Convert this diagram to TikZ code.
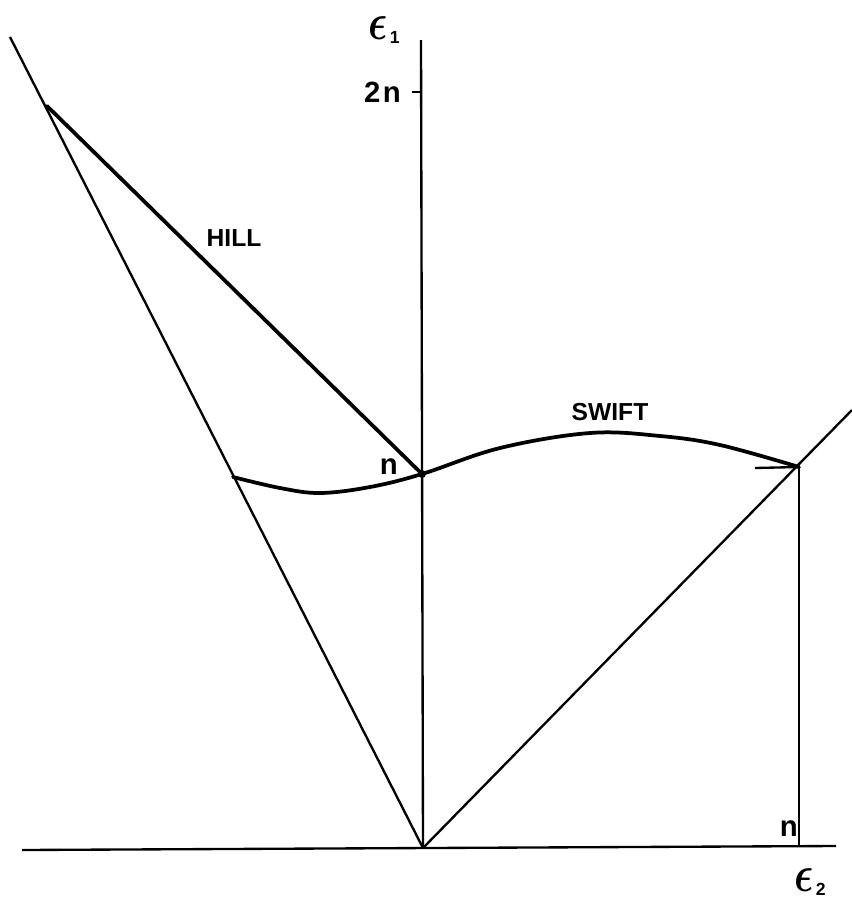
\documentclass[tikz,border=0pt]{standalone}
\usepackage{bm}
\usepackage{fontspec}
\setmainfont{Liberation Sans}
\usepackage{tikz}
\usepackage{xcolor}
\newcommand{\lblFont}{\fontsize{21}{24}\selectfont\bfseries}
\newcommand{\nFont}{\fontsize{25}{28}\selectfont\bfseries}
\newcommand{\axEps}[1]{%
    \scalebox{3.4}[4.4]{$\bm{\epsilon}$}\hspace{2pt}\raisebox{-0.35em}{\fontsize{15}{15}\selectfont\bfseries #1}%
}
\tikzset{
    thinline/.style={line width=2pt},
    thickline/.style={line width=3.2pt, line cap=round, line join=round},
    lbl/.style={inner sep=0pt, font=\lblFont},
    nlbl/.style={inner sep=0pt, font=\nFont, anchor=east}
}

\begin{document}
\begin{tikzpicture}[x=0.3mm, y=-0.3mm]
    \useasboundingbox (0,0) rectangle (852,901);

    % points of the plot
    \coordinate (O) at (423,848);
    \coordinate (top) at (421,40);
    \coordinate (xleft) at (22,850);
    \coordinate (xright) at (836,846);
    \coordinate (lefttop) at (10,37);
    \coordinate (righttop) at (852,410);
    \coordinate (hillstart) at (47,106);
    \coordinate (N) at (422,474);
    \coordinate (swiftstart) at (233,477);
    \coordinate (P) at (799,467);
    \coordinate (Pfoot) at (799,847);
    \coordinate (Ptick) at (755,468);
    \coordinate (tick2n) at (412,92);
    \coordinate (axis2n) at (421,92);

    % axes and the two bounding lines
    \draw[thinline] (xleft) -- (xright);
    \draw[thinline] (O) -- (top);
    \draw[thinline] (tick2n) -- (axis2n);
    \draw[thinline] (lefttop) -- (O);
    \draw[thinline] (O) -- (righttop);
    \draw[thinline] (P) -- (Pfoot);
    \draw[thinline] (Ptick) -- (P);

    % HILL and SWIFT
    \draw[thickline] (hillstart) -- (N);
    \draw[thickline] plot[smooth, tension=0.6] coordinates {
        (233,477) (280,488) (320,493) (370,487) (422,474)
        (500,448) (590,433) (660,436) (720,445) (799,467)};
    \fill (N) circle (4);

    % labels
    \node[lbl] (hill) at (234,238) {HILL};
    \node[lbl] (swift) at (610,412) {SWIFT};
    \node[nlbl] (nN) at (398,467) {n};
    \node[nlbl] (n2) at (401,92) {2\hspace{2pt}n};
    \node[nlbl] (nP) at (798,829) {n};
    \node[inner sep=0pt] (e1) at (384,30) {\axEps{1}};
    \node[inner sep=0pt] (e2) at (810,882) {\axEps{2}};
\end{tikzpicture}
\end{document}
